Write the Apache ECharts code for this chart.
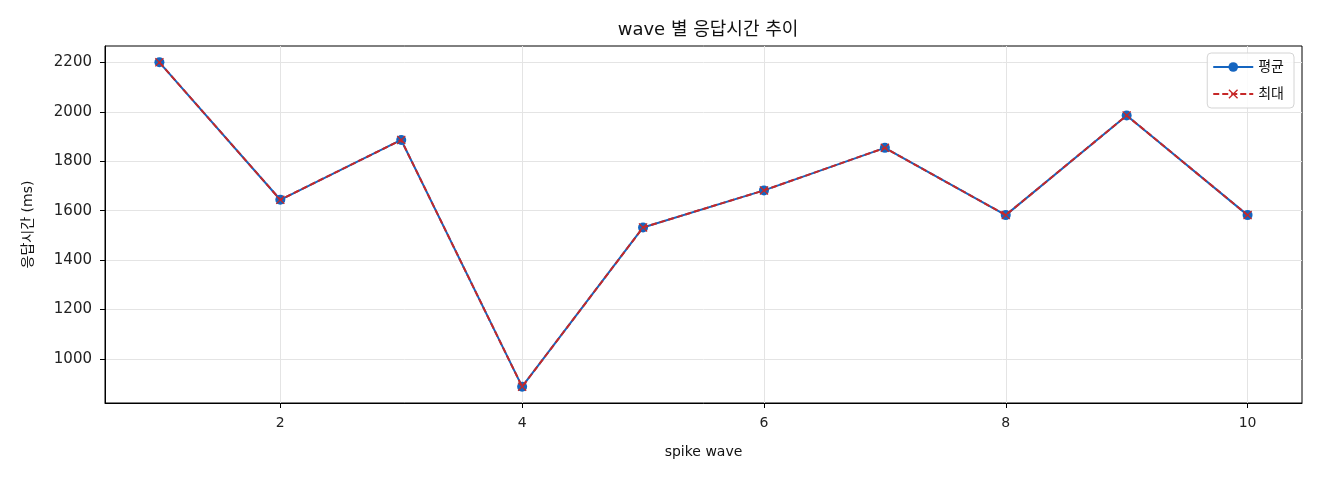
<!DOCTYPE html>
<html>
<head>
    <meta charset="utf-8" />
    <title>wave 별 응답시간 추이</title>
    <script src="https://cdn.jsdelivr.net/npm/echarts@6/dist/echarts.min.js"></script>
</head>
<body style="margin:0;background:#fff;">
    <div id="chart" style="width:1320px;height:480px;"></div>
    <script type="text/javascript">
        var waves = [1, 2, 3, 4, 5, 6, 7, 8, 9, 10];
        var avgData = [2200, 1644, 1886, 888, 1532, 1682, 1854, 1582, 1985, 1582];
        var maxData = [2200, 1644, 1886, 888, 1532, 1682, 1854, 1582, 1985, 1582];
        var xTicks = [2, 4, 6, 8, 10];
        var yTicks = [1000, 1200, 1400, 1600, 1800, 2000, 2200];
        var font = '"DejaVu Sans", "Noto Sans CJK KR", sans-serif';
        var blue = '#1565c0';
        var red = '#c62828';
        var xMark = 'path://M1,0 L5,4 L9,0 L10,1 L6,5 L10,9 L9,10 L5,6 L1,10 L0,9 L4,5 L0,1 Z';

        function pairs(ys) {
            return waves.map(function (w, i) { return [w, ys[i]]; });
        }
        function plain(v) {
            return String(v);
        }

        var chart = echarts.init(document.getElementById('chart'));
        var option = {
            animation: false,
            textStyle: { fontFamily: font },
            title: {
                text: 'wave 별 응답시간 추이',
                left: 703,
                textAlign: 'center',
                top: 16,
                textStyle: { fontSize: 18, fontWeight: 'normal', color: '#111', fontFamily: font }
            },
            legend: {
                orient: 'vertical',
                right: 26,
                top: 53,
                padding: [7, 10, 7, 5],
                itemWidth: 40,
                itemHeight: 12,
                itemGap: 13,
                backgroundColor: 'rgba(255,255,255,0.85)',
                borderColor: '#d4d4d4',
                borderWidth: 1,
                borderRadius: 4,
                textStyle: { fontSize: 14, color: '#111', fontFamily: font },
                data: ['평균', '최대']
            },
            grid: {
                left: 105,
                right: 18,
                top: 46,
                bottom: 77,
                show: true,
                borderColor: '#000',
                borderWidth: 1,
                containLabel: false
            },
            xAxis: {
                type: 'value',
                min: 0.55,
                max: 10.45,
                splitNumber: 5,
                name: 'spike wave',
                nameLocation: 'middle',
                nameGap: 42,
                nameTextStyle: { fontSize: 14, color: '#111', fontFamily: font },
                axisLine: { show: true, lineStyle: { color: '#000', width: 1 } },
                axisTick: { show: true, inside: false, length: 5, customValues: xTicks, lineStyle: { color: '#000', width: 1 } },
                axisLabel: {
                    fontSize: 14, color: '#222', margin: 13, fontFamily: font,
                    customValues: xTicks, formatter: plain
                },
                splitLine: { show: true, lineStyle: { color: '#e4e4e4', width: 1 } }
            },
            yAxis: {
                type: 'value',
                min: 822,
                max: 2266,
                splitNumber: 7,
                name: '응답시간 (ms)',
                nameLocation: 'middle',
                nameGap: 70,
                nameTextStyle: { fontSize: 14, color: '#111', fontFamily: font },
                axisLine: { show: true, lineStyle: { color: '#000', width: 1 } },
                axisTick: { show: true, inside: false, length: 5, customValues: yTicks, lineStyle: { color: '#000', width: 1 } },
                axisLabel: {
                    fontSize: 15, color: '#222', margin: 13, fontFamily: font,
                    customValues: yTicks, formatter: plain
                },
                splitLine: { show: true, lineStyle: { color: '#e4e4e4', width: 1 } }
            },
            series: [{
                name: '평균',
                type: 'line',
                data: pairs(avgData),
                symbol: 'circle',
                symbolSize: 10,
                color: blue,
                itemStyle: { color: blue },
                lineStyle: { color: blue, width: 2 },
                z: 2
            }, {
                name: '최대',
                type: 'line',
                data: pairs(maxData),
                symbol: xMark,
                symbolSize: 9,
                color: red,
                itemStyle: { color: red },
                lineStyle: { color: red, width: 2, type: [6, 3] },
                z: 3
            }]
        };
        chart.setOption(option, true);
    </script>
</body>
</html>
